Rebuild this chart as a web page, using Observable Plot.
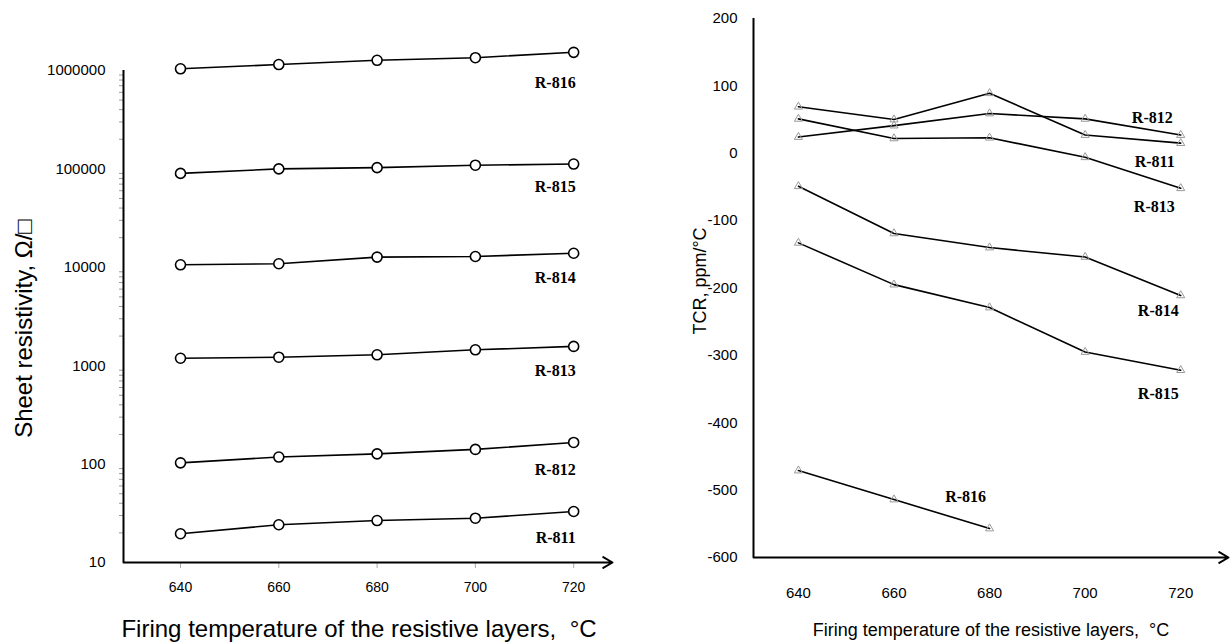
<!DOCTYPE html>
<html><head><meta charset="utf-8">
<script src="https://cdn.jsdelivr.net/npm/d3@7"></script>
<script src="https://cdn.jsdelivr.net/npm/@observablehq/plot@0.6"></script>
<style>
body{margin:0;background:#fff;}
#wrap{position:relative;width:1231px;height:643px;font-family:Arial,"Liberation Sans",sans-serif;}
#left{position:absolute;left:0;top:0;}
#right{position:absolute;left:615px;top:0;}
</style></head><body><div id="wrap"><div id="left"></div><div id="right"></div></div>
<script>
// ---- data ----
const temperatures = [640, 660, 680, 700, 720];
const resSeries = ["R-816", "R-815", "R-814", "R-813", "R-812", "R-811"];
const res816 = [1040000, 1150000, 1270000, 1350000, 1530000];
const res815 = [90000, 100000, 103000, 109000, 112000];
const res814 = [10600, 10870, 12700, 12880, 13900];
const res813 = [1190, 1220, 1290, 1450, 1570];
const res812 = [103, 118, 127, 141, 166];
const res811 = [19.6, 24.2, 26.7, 28.2, 33];
const resTicks = [10, 100, 1000, 10000, 100000, 1000000];

const tcrSeries = ["R-812", "R-811", "R-813", "R-814", "R-815", "R-816"];
const tcr812 = [24, 41, 59, 51, 27];
const tcr811 = [69, 50, 89, 27, 15];
const tcr813 = [51, 22, 23, -6, -52];
const tcr814 = [-49, -119, -140, -154, -211];
const tcr815 = [-133, -195, -229, -295, -322];
const tcr816 = [-471, -514, -557];
const tcrTicks = [-600, -500, -400, -300, -200, -100, 0, 100, 200];

const xLabel = "Firing temperature of the resistive layers,  \u00B0C";
const resLabel = "Sheet resistivity, \u03A9/\u25A1";
const tcrLabel = "TCR, ppm/\u00B0C";

// ---- tables ----
const resValues = [res816, res815, res814, res813, res812, res811];
const resData = resSeries.flatMap((s, i) => resValues[i].map((v, j) => ({series: s, t: temperatures[j], v})));
const tcrValues = [tcr812, tcr811, tcr813, tcr814, tcr815, tcr816];
const tcrData = tcrSeries.flatMap((s, i) => tcrValues[i].map((v, j) => ({series: s, t: temperatures[j], v})));
const lastPoints = data => d3.groups(data, d => d.series).map(([, arr]) => arr[arr.length - 1]);

const minorTicks = [];
for (let e = 1; e < 6; e++) for (let k = 2; k < 10; k++) minorTicks.push(k * 10 ** e);

const labelFont = {fontFamily: "'Liberation Serif','Times New Roman',serif", fontWeight: "bold", fontSize: 16};

// ---- left chart ----
const xL = [628.4, 727.9];
const resLabelDy = {"R-816": 31, "R-815": 23, "R-814": 25, "R-813": 24, "R-812": 27, "R-811": 26};
const resLast = lastPoints(resData);
const left = Plot.plot({
  width: 615, height: 643,
  marginLeft: 123, marginRight: 3, marginTop: 70, marginBottom: 81,
  style: {fontFamily: "Arial,'Liberation Sans',sans-serif", fontSize: "15px", background: "transparent", color: "#000"},
  x: {domain: xL},
  y: {type: "log", domain: [10, 1000000]},
  marks: [
    Plot.axisY({ticks: minorTicks, tickSize: 4, tickFormat: () => "", stroke: "#999", label: null}),
    Plot.axisY({ticks: resTicks, tickSize: 0, tickPadding: 18, tickFormat: d => String(d), fontSize: 15, label: null}),
    Plot.axisX({ticks: temperatures, tickSize: 6, tickPadding: 14, stroke: "#aaa", fontSize: 14, label: null}),
    Plot.ruleX([xL[0]], {strokeWidth: 2}),
    Plot.arrow([0], {x1: xL[0], x2: xL[1], y1: 10, y2: 10, strokeWidth: 2, headLength: 8}),
    Plot.line(resData, {x: "t", y: "v", z: "series", stroke: "#000", strokeWidth: 1.6}),
    Plot.dot(resData, {x: "t", y: "v", r: 5, stroke: "#000", fill: "#fff", strokeWidth: 1.6}),
    ...resLast.map(d => Plot.text([d], {x: "t", y: "v", text: "series", textAnchor: "end", dx: 2, dy: resLabelDy[d.series], ...labelFont})),
    Plot.text([xLabel], {frameAnchor: "bottom", text: d => d, textAnchor: "middle", dy: 74, dx: -9, fontSize: 24}),
    Plot.text([resLabel], {frameAnchor: "left", text: d => d, textAnchor: "middle", rotate: -90, dx: -99, dy: 12, fontSize: 24})
  ]
});
document.getElementById("left").appendChild(left);

// ---- right chart ----
const xR = [630.6, 730];
const tcrLabelOffsets = {"R-812": [-8, -17, "end"], "R-811": [-6, 19, "end"], "R-813": [-6, 19, "end"], "R-814": [-2, 15, "end"], "R-815": [-2, 24, "end"], "R-816": [-24, -32, "middle"]};
const tcrLast = lastPoints(tcrData);
const right = Plot.plot({
  width: 616, height: 643,
  marginLeft: 138, marginRight: 3, marginTop: 18, marginBottom: 86,
  style: {fontFamily: "Arial,'Liberation Sans',sans-serif", fontSize: "15px", background: "transparent", color: "#000"},
  x: {domain: xR},
  y: {domain: [-600, 200]},
  marks: [
    Plot.axisY({ticks: tcrTicks, tickSize: 0, tickPadding: 16, tickFormat: d => String(d), fontSize: 15, label: null}),
    Plot.axisX({ticks: temperatures, tickSize: 0, tickPadding: 30, fontSize: 15, label: null}),
    Plot.ruleX([xR[0]], {strokeWidth: 2}),
    Plot.arrow([0], {x1: xR[0], x2: xR[1], y1: -600, y2: -600, strokeWidth: 2, headLength: 8}),
    Plot.line(tcrData, {x: "t", y: "v", z: "series", stroke: "#000", strokeWidth: 1.6}),
    Plot.dot(tcrData, {x: "t", y: "v", symbol: "triangle", r: 3, stroke: "#999", fill: "none", strokeWidth: 1}),
    ...tcrLast.map(d => Plot.text([d], {x: "t", y: "v", text: "series", dx: tcrLabelOffsets[d.series][0], dy: tcrLabelOffsets[d.series][1], textAnchor: tcrLabelOffsets[d.series][2], ...labelFont})),
    Plot.text([xLabel], {frameAnchor: "bottom", text: d => d, textAnchor: "middle", dy: 78, fontSize: 18}),
    Plot.text([tcrLabel], {frameAnchor: "left", text: d => d, textAnchor: "middle", rotate: -90, dx: -53, dy: -7, fontSize: 18})
  ]
});
document.getElementById("right").appendChild(right);
</script></body></html>
